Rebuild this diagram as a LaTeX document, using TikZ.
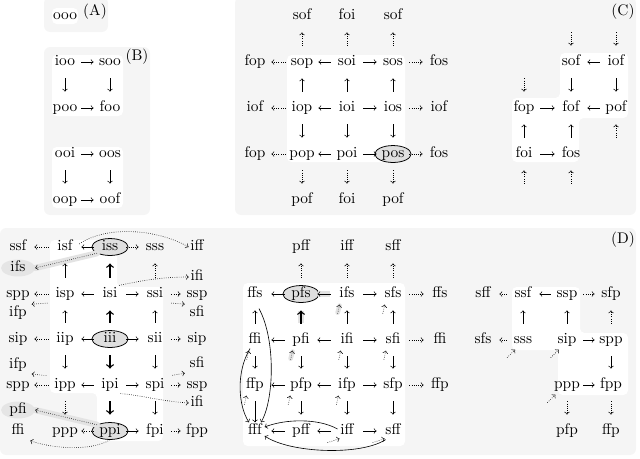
\documentclass[tikz,border=0pt]{standalone}
\usetikzlibrary{shapes.geometric,calc}
\newcommand\myAR[3][]{\draw[ar,#1] (#2.center) -- (#3.center);}
\newcommand\myDA[3][]{\draw[da,#1] (#2.center) -- (#3.center);}
\begin{document}
\begin{tikzpicture}[x=0.65pt,y=-0.65pt,
  w/.style={inner sep=1pt, text height=6.9pt, text depth=1.9pt},
  hl/.style={ellipse, draw, line width=0.5pt, fill=gray!25, inner sep=0pt, minimum width=23.5pt, minimum height=11pt, text height=5pt, text depth=1pt},
  hlg/.style={ellipse, fill=gray!20, inner sep=0pt, minimum width=22pt, minimum height=11pt, text height=5pt, text depth=1pt},
  ar/.style={->, shorten >=10.7pt, shorten <=10.7pt},
  da/.style={ar, densely dotted},
  thk/.style={line width=0.9pt},
  sm/.style={->, densely dotted},
  band/.style={line width=4pt, gray!22, line cap=round},
  panel/.style={fill=black!4, rounded corners=4pt},
  wbox/.style={fill=white, rounded corners=3pt},
  lab/.style={inner sep=1pt}]
\useasboundingbox (0,0) rectangle (640,458);
% panels
\fill[panel] (44,-3) rectangle (108,32);
\fill[panel] (44,47) rectangle (150,215);
\fill[panel] (235,-3) rectangle (636,215);
\fill[panel] (0,228) rectangle (636,455);
% white regions
\fill[wbox] (52,8) rectangle (78,24);
\fill[wbox] (52,55) rectangle (123,116);
\fill[wbox] (52,147) rectangle (123,208);
\fill[wbox] (287,55) rectangle (405,162);
\fill[wbox] (560,53) -- (628,53) -- (628,118) -- (579,118) -- (579,162) -- (512,162) -- (512,98) -- (560,98) -- cycle;
\fill[wbox] (50,240) -- (117,240) -- (117,287) -- (163,287) -- (163,441) -- (97,441) -- (97,393) -- (50,393) -- cycle;
\fill[wbox] (243,283) rectangle (405,446);
\fill[wbox] (512,287) -- (580,287) -- (580,333) -- (628,333) -- (628,395) -- (558,395) -- (558,350) -- (512,350) -- cycle;

% ---------- (A)
\node[w] (ooo) at (65,16) {ooo};
\node[lab] (lA) at (95,12) {(A)};
% ---------- (B)
\node[lab] (lB) at (137,57) {(B)};
\node[w] (ioo) at (65,62) {ioo};
\node[w] (soo) at (110,62) {soo};
\node[w] (poo) at (65,108) {poo};
\node[w] (foo) at (110,108) {foo};
\node[w] (ooi) at (65,154) {ooi};
\node[w] (oos) at (110,154) {oos};
\node[w] (oop) at (65,200) {oop};
\node[w] (oof) at (110,200) {oof};
\myAR{ioo}{soo} \myAR{ioo}{poo} \myAR{soo}{foo} \myAR{poo}{foo}
\myAR{ooi}{oos} \myAR{ooi}{oop} \myAR{oos}{oof} \myAR{oop}{oof}

% ---------- (C) left
\node[lab] (lC) at (623,12) {(C)};
\node[w] (csof1) at (302,16) {sof};
\node[w] (cfoi1) at (347,16) {foi};
\node[w] (csof2) at (393,16) {sof};
\node[w] (cfop1) at (255,62) {fop};
\node[w] (sop) at (302,62) {sop};
\node[w] (soi) at (347,62) {soi};
\node[w] (sos) at (393,62) {sos};
\node[w] (cfos1) at (439,62) {fos};
\node[w] (ciof1) at (255,108) {iof};
\node[w] (iop) at (302,108) {iop};
\node[w] (ioi) at (347,108) {ioi};
\node[w] (ios) at (393,108) {ios};
\node[w] (ciof2) at (439,108) {iof};
\node[w] (cfop2) at (255,154) {fop};
\node[w] (pop) at (302,154) {pop};
\node[w] (poi) at (347,154) {poi};
\node[hl] (pos) at (393,154) {pos};
\node[w] (cfos2) at (439,154) {fos};
\node[w] (cpof1) at (302,200) {pof};
\node[w] (cfoi2) at (347,200) {foi};
\node[w] (cpof2) at (393,200) {pof};
\myDA{sop}{csof1} \myDA{soi}{cfoi1} \myDA{sos}{csof2}
\myDA{sop}{cfop1} \myAR{soi}{sop} \myAR{soi}{sos} \myDA{sos}{cfos1}
\myAR{iop}{sop} \myAR{ioi}{soi} \myAR{ios}{sos}
\myDA{iop}{ciof1} \myAR{ioi}{iop} \myAR{ioi}{ios} \myDA{ios}{ciof2}
\myAR{iop}{pop} \myAR{ioi}{poi} \myAR{ios}{pos}
\myDA{pop}{cfop2} \myAR{poi}{pop} \myAR{poi}{pos} \myDA{pos}{cfos2}
\myDA{pop}{cpof1} \myDA{poi}{cfoi2} \myDA{pos}{cpof2}

% ---------- (C) right
\coordinate (ct1) at (571,16);
\coordinate (ct2) at (616,16);
\coordinate (ct3) at (524,62);
\coordinate (cb1) at (616,154);
\coordinate (cb2) at (524,200);
\coordinate (cb3) at (571,200);
\node[w] (crsof) at (571,62) {sof};
\node[w] (criof) at (616,62) {iof};
\node[w] (crfop) at (524,108) {fop};
\node[w] (crfof) at (571,108) {fof};
\node[w] (crpof) at (616,108) {pof};
\node[w] (crfoi) at (524,154) {foi};
\node[w] (crfos) at (571,154) {fos};
\myDA{ct1}{crsof} \myDA{ct2}{criof} \myDA{ct3}{crfop}
\myDA{cb1}{crpof} \myDA{cb2}{crfoi} \myDA{cb3}{crfos}
\myAR{criof}{crsof} \myAR{crsof}{crfof} \myAR{criof}{crpof}
\myAR{crfop}{crfof} \myAR{crpof}{crfof}
\myAR{crfoi}{crfop} \myAR{crfos}{crfof} \myAR{crfoi}{crfos}

% ---------- (D) left
\node[lab] (lD) at (623,240) {(D)};
\node[hlg] (difs) at (18,268) {ifs};
\node[hlg] (dpfi) at (18,410) {pfi};
\node[w] (dssf) at (18,247) {ssf};
\node[w] (isf) at (65,247) {isf};
\node[hl] (iss) at (110,247) {iss};
\node[w] (sss) at (155,247) {sss};
\node[w] (diff) at (197,247) {iff};
\node[w] (difi1) at (197,277) {ifi};
\node[w] (dspp1) at (18,294) {spp};
\node[w] (isp) at (65,294) {isp};
\node[w] (isi) at (110,294) {isi};
\node[w] (ssi) at (155,294) {ssi};
\node[w] (dssp1) at (197,294) {ssp};
\node[w] (difp1) at (18,313) {ifp};
\node[w] (dsfi1) at (197,313) {sfi};
\node[w] (dsip1) at (18,339) {sip};
\node[w] (iip) at (65,339) {iip};
\node[hl] (iii) at (110,339) {iii};
\node[w] (sii) at (155,339) {sii};
\node[w] (dsip2) at (197,339) {sip};
\node[w] (difp2) at (18,365) {ifp};
\node[w] (dsfi2) at (197,364) {sfi};
\node[w] (dspp2) at (18,385) {spp};
\node[w] (ipp) at (65,385) {ipp};
\node[w] (ipi) at (110,385) {ipi};
\node[w] (spi) at (155,385) {spi};
\node[w] (dssp2) at (197,385) {ssp};
\node[w] (difi2) at (197,403) {ifi};
\node[w] (dffi) at (18,431) {ffi};
\node[w] (ppp) at (65,431) {ppp};
\node[hl] (ppi) at (110,431) {ppi};
\node[w] (fpi) at (155,431) {fpi};
\node[w] (dfpp) at (197,431) {fpp};
% highlighted bands
\draw[band] (iss.south west) -- (difs.east);
\draw[band] (ppi.north west) -- (dpfi.east);
\draw[sm] (iss.south west) -- (difs.east);
\draw[sm] (ppi.north west) -- (dpfi.east);
% row 1
\myDA{isf}{dssf} \myAR{iss}{isf} \myDA{iss}{sss}
\draw[sm] ($(isf.east)+(5,-3)$) .. controls (105,226) and (155,228) .. (diff.west);
\myAR{isp}{isf} \myAR[thk]{isi}{iss} \myDA{ssi}{sss}
% row 2
\myDA{isp}{dspp1} \myAR{isi}{isp} \myAR{isi}{ssi} \myDA{ssi}{dssp1}
\draw[sm, shorten <=4pt, shorten >=2pt] (isp.south west) -- (difp1.north east);
\draw[sm, shorten <=4pt, shorten >=2pt] (ssi.south east) -- (dsfi1.north west);
\draw[sm] (isi.north east) .. controls (140,281) and (160,277) .. (difi1.west);
\myAR{iip}{isp} \myAR[thk]{iii}{isi} \myAR{sii}{ssi}
% row 3
\myDA{iip}{dsip1} \myAR{iii}{iip} \myAR{iii}{sii} \myDA{sii}{dsip2}
\myAR{iip}{ipp} \myAR[thk]{iii}{ipi} \myAR{sii}{spi}
% row 4
\myDA{ipp}{dspp2} \myAR{ipi}{ipp} \myAR{ipi}{spi} \myDA{spi}{dssp2}
\draw[sm, shorten <=4pt, shorten >=2pt] (ipp.north west) -- (difp2.south east);
\draw[sm, shorten <=4pt, shorten >=2pt] (spi.north east) -- (dsfi2.south west);
\draw[sm] (ipi.south east) .. controls (140,395) and (160,401) .. (difi2.west);
\myDA{ipp}{ppp} \myAR[thk]{ipi}{ppi} \myAR{spi}{fpi}
% row 5
\myDA{ppi}{ppp} \myAR{ppi}{fpi} \myDA{fpi}{dfpp}
\draw[sm] (ppi.south) .. controls (90,452) and (50,448) .. ($(dffi.south east)+(4,1)$);

% ---------- (D) middle
\node[w] (mpff) at (301,247) {pff};
\node[w] (miff) at (347,247) {iff};
\node[w] (msff) at (393,247) {sff};
\node[w] (ffs) at (255,294) {ffs};
\node[hl] (pfs) at (301,294) {pfs};
\node[w] (ifs) at (347,294) {ifs};
\node[w] (sfs) at (393,294) {sfs};
\node[w] (mffs2) at (440,294) {ffs};
\node[w] (ffi) at (255,340) {ffi};
\node[w] (pfi) at (301,340) {pfi};
\node[w] (ifi) at (347,340) {ifi};
\node[w] (sfi) at (393,340) {sfi};
\node[w] (mffi2) at (440,340) {ffi};
\node[w] (ffp) at (255,385) {ffp};
\node[w] (pfp) at (301,385) {pfp};
\node[w] (ifp) at (347,385) {ifp};
\node[w] (sfp) at (393,385) {sfp};
\node[w] (mffp2) at (440,385) {ffp};
\node[w] (fff) at (255,431) {fff};
\node[w] (pff) at (301,431) {pff};
\node[w] (iff) at (347,431) {iff};
\node[w] (sff) at (393,431) {sff};
% gray highlights
\draw[band, line width=3.5pt, shorten >=11pt, shorten <=11pt, line cap=butt] (ifs.center) -- (pfs.center);
\draw[band, line width=3.5pt, shorten >=11pt, shorten <=11pt, line cap=butt] (pfi.center) -- (pfs.center);
\draw[band, line width=3pt] ($(ifs.south west)+(0,10)$) -- ($(ifs.south west)+(2,3)$);
\draw[band, line width=3pt] ($(pfi.south west)+(0,10)$) -- ($(pfi.south west)+(2,3)$);
% row 1-2
\myDA{pfs}{mpff} \myDA{ifs}{miff} \myDA{sfs}{msff}
\myAR{pfs}{ffs} \myAR{ifs}{pfs} \myAR{ifs}{sfs} \myDA{sfs}{mffs2}
\myAR{ffi}{ffs} \myAR[thk]{pfi}{pfs} \myAR{ifi}{ifs} \myAR{sfi}{sfs}
% row 3
\myAR{pfi}{ffi} \myAR{ifi}{pfi} \myAR{ifi}{sfi} \myDA{sfi}{mffi2}
\myAR{ffi}{ffp} \myAR{pfi}{pfp} \myAR{ifi}{ifp} \myAR{sfi}{sfp}
% row 4
\myAR{pfp}{ffp} \myAR{ifp}{pfp} \myAR{ifp}{sfp} \myDA{sfp}{mffp2}
\myAR{pfp}{pff} \myAR{ifp}{iff} \myAR{sfp}{sff}
\draw[->, shorten <=10.7pt, shorten >=0pt] (ffp.center) -- (fff.north);
% row 5
\myAR{pff}{fff} \myAR{iff}{pff} \myAR{iff}{sff}
% long curves into fff
\draw[->] ($(ffi.south)+(-5,0)$) .. controls (236,372) and (238,405) .. ($(fff.north)+(-6,0)$);
\draw[->] ($(ffs.south)+(4,6)$) .. controls (276,340) and (274,400) .. ($(fff.north)+(6,0)$);
\draw[->] ($(iff.west)+(-1,-2)$) .. controls (318,418) and (285,419) .. ($(fff.east)+(1,-4)$);
\draw[->] ($(sff.south west)+(2,0)$) .. controls (360,456) and (290,453) .. ($(fff.east)+(1,5)$);
% small dotted arrows
\foreach \n in {ifs,sfs,ffi,pfi,ifi,sfi,ffp,pfp,ifp}
  \draw[sm] ($(\n.south west)+(0,11)$) -- ($(\n.south west)+(2,2)$);
\foreach \n in {iff,sff}
  \draw[sm] ($(\n.south west)+(-11,3)$) -- ($(\n.south west)+(1,-1)$);

% ---------- (D) right
\node[w] (rsff) at (483,294) {sff};
\node[w] (ssf) at (523,294) {ssf};
\node[w] (ssp) at (567,294) {ssp};
\node[w] (rsfp) at (611,294) {sfp};
\node[w] (rsfs) at (483,340) {sfs};
\node[w] (rsss) at (523,340) {sss};
\node[w] (sip) at (567,340) {sip};
\node[w] (rspp) at (611,340) {spp};
\node[w] (rppp) at (567,385) {ppp};
\node[w] (rfpp) at (611,385) {fpp};
\node[w] (rpfp) at (567,431) {pfp};
\node[w] (rffp) at (611,431) {ffp};
\myDA{ssf}{rsff} \myAR{ssp}{ssf} \myDA{ssp}{rsfp}
\myAR{rsss}{ssf} \myAR{sip}{ssp} \myDA{rspp}{rsfp}
\myDA{rsss}{rsfs} \myAR{sip}{rspp} \myAR{rspp}{rfpp}
\myAR{rppp}{rfpp} \myDA{rppp}{rpfp} \myDA{rfpp}{rffp}
\foreach \n in {rsss,sip,rppp}
  \draw[sm] ($(\n.south west)+(-5,9)$) -- ($(\n.south west)+(3,1)$);
\end{tikzpicture}
\end{document}
